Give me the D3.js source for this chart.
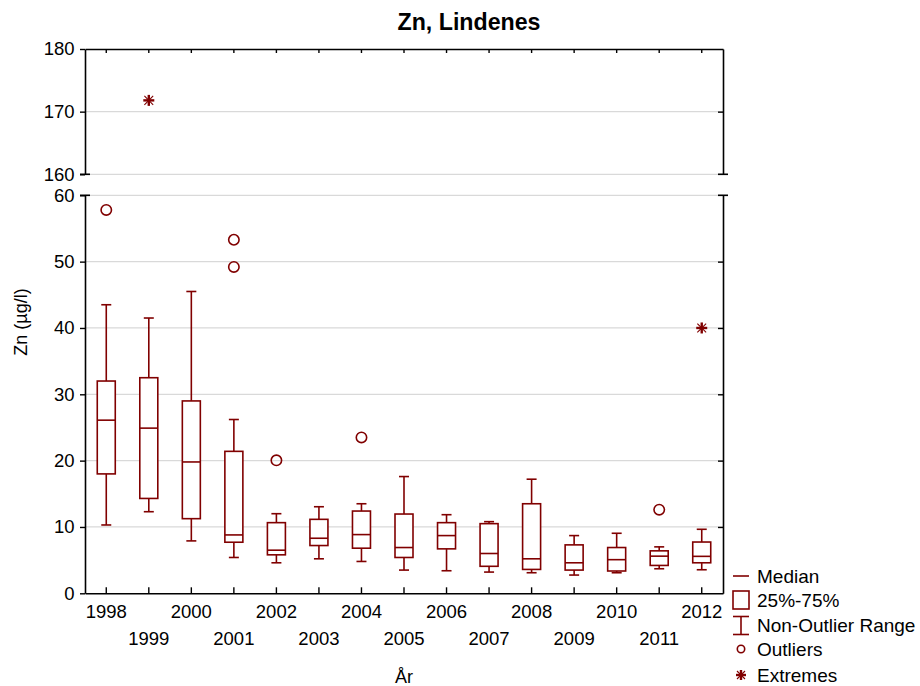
<!DOCTYPE html>
<html>
<head>
<meta charset="utf-8">
<script src="https://cdn.jsdelivr.net/npm/d3@7"></script>
<style>
  html, body { margin: 0; padding: 0; background: #fff; }
  svg text { font-family: "Liberation Sans", Arial, sans-serif; fill: #000; }
</style>
</head>
<body>
<svg id="chart" width="920" height="686"></svg>
<script>
// Zn concentration per year, box-and-whisker summary
const years        = [1998, 1999, 2000, 2001, 2002, 2003, 2004, 2005, 2006, 2007, 2008, 2009, 2010, 2011, 2012];
const whiskerLow   = [10.3, 12.3, 7.9, 5.4, 4.6, 5.2, 4.8, 3.5, 3.4, 3.2, 3.1, 2.75, 3.1, 3.7, 3.55];
const quartile1    = [18.0, 14.3, 11.25, 7.7, 5.8, 7.2, 6.8, 5.4, 6.7, 4.07, 3.6, 3.5, 3.36, 4.2, 4.6];
const medians      = [26.1, 24.9, 19.8, 8.8, 6.5, 8.3, 8.85, 6.9, 8.7, 6.0, 5.2, 4.6, 5.07, 5.6, 5.57];
const quartile3    = [32.0, 32.5, 29.0, 21.4, 10.65, 11.15, 12.4, 11.95, 10.65, 10.5, 13.5, 7.3, 6.9, 6.4, 7.73];
const whiskerHigh  = [43.5, 41.5, 45.5, 26.2, 12.0, 13.05, 13.5, 17.6, 11.85, 10.8, 17.2, 8.7, 9.05, 7.0, 9.65];
const outlierYears  = [1998, 2001, 2001, 2002, 2004, 2011];
const outlierValues = [57.8, 53.3, 49.2, 20.05, 23.5, 12.6];
const extremeYears  = [1999, 2012];
const extremeValues = [171.8, 40];
const upperTicks = [160, 170, 180];
const lowerTicks = [0, 10, 20, 30, 40, 50, 60];
const legendLabels = ["Median", "25%-75%", "Non-Outlier Range", "Outliers", "Extremes"];

const markColor = "#800000";
const axisColor = "#000";
const gridColor = "#d9d9d9";

const svg = d3.select("#chart");
const left = 85, right = 723;
const upperTop = 49, upperBottom = 174.3;
const lowerTop = 195.3, lowerBottom = 593.3;

const x = d3.scaleBand().domain(years).range([left, right]).padding(0);
const cx = d => x(d) + x.bandwidth() / 2;
const yUp = d3.scaleLinear().domain([160, 180]).range([upperBottom, upperTop]);
const yLo = d3.scaleLinear().domain([0, 60]).range([lowerBottom, lowerTop]);
// pick the panel a value falls in
const yAny = v => v >= 160 ? yUp(v) : yLo(v);

// gridlines
const grid = svg.append("g");
[[yUp, [160, 170]], [yLo, [10, 20, 30, 40, 50, 60]]].forEach(([sc, vals]) => {
  grid.selectAll(null).data(vals).enter().append("line")
    .attr("x1", left).attr("x2", right)
    .attr("y1", d => sc(d)).attr("y2", d => sc(d))
    .attr("stroke", gridColor).attr("stroke-width", 1.2);
});

// axes
function styleAxis(g) {
  g.selectAll("path.domain").attr("stroke", axisColor).attr("stroke-width", 1.6);
  g.selectAll(".tick line").attr("stroke", axisColor).attr("stroke-width", 1.4);
  g.selectAll(".tick text").attr("font-size", 18.5).attr("font-family", "Liberation Sans, Arial, sans-serif");
}
svg.append("g").attr("transform", `translate(${left},0)`)
  .call(d3.axisLeft(yUp).tickValues(upperTicks).tickSize(5).tickSizeOuter(0).tickPadding(5.5))
  .call(styleAxis);
svg.append("g").attr("transform", `translate(${left},0)`)
  .call(d3.axisLeft(yLo).tickValues(lowerTicks).tickSize(5).tickSizeOuter(0).tickPadding(5.5))
  .call(styleAxis);
svg.append("g").attr("transform", `translate(${right},0)`)
  .call(d3.axisRight(yUp).tickValues([170]).tickSize(-5).tickSizeOuter(0).tickFormat(""))
  .call(styleAxis);
svg.append("g").attr("transform", `translate(${right},0)`)
  .call(d3.axisRight(yLo).tickValues([10, 20, 30, 40, 50]).tickSize(-5).tickSizeOuter(0).tickFormat(""))
  .call(styleAxis);
svg.append("g").attr("transform", `translate(0,${upperTop})`)
  .call(d3.axisTop(x).tickSize(-4).tickSizeOuter(0).tickFormat(""))
  .call(styleAxis);
const bottomAxis = svg.append("g").attr("transform", `translate(0,${lowerBottom})`)
  .call(d3.axisBottom(x).tickSize(-6).tickSizeOuter(0))
  .call(styleAxis);
bottomAxis.selectAll(".tick text")
  .attr("dy", null)
  .attr("y", (d, i) => i % 2 === 0 ? 24.5 : 51.5);

// break caps on both vertical axes
[left, right].forEach(ax => {
  [upperBottom, lowerTop].forEach(yy => {
    svg.append("line").attr("x1", ax - 5).attr("x2", ax + 5)
      .attr("y1", yy).attr("y2", yy)
      .attr("stroke", axisColor).attr("stroke-width", 1.6);
  });
});

// boxes
const boxW = 18, capW = 10;
const boxes = svg.append("g").attr("stroke", markColor).attr("stroke-width", 1.6).attr("fill", "none");
years.forEach((yr, i) => {
  const c = cx(yr);
  const g = boxes.append("g");
  g.append("line").attr("x1", c).attr("x2", c).attr("y1", yLo(whiskerHigh[i])).attr("y2", yLo(quartile3[i]));
  g.append("line").attr("x1", c).attr("x2", c).attr("y1", yLo(quartile1[i])).attr("y2", yLo(whiskerLow[i]));
  g.append("line").attr("x1", c - capW / 2).attr("x2", c + capW / 2).attr("y1", yLo(whiskerHigh[i])).attr("y2", yLo(whiskerHigh[i]));
  g.append("line").attr("x1", c - capW / 2).attr("x2", c + capW / 2).attr("y1", yLo(whiskerLow[i])).attr("y2", yLo(whiskerLow[i]));
  g.append("rect").attr("x", c - boxW / 2).attr("width", boxW)
    .attr("y", yLo(quartile3[i])).attr("height", yLo(quartile1[i]) - yLo(quartile3[i]))
    .attr("fill", "#fff");
  g.append("line").attr("x1", c - boxW / 2).attr("x2", c + boxW / 2).attr("y1", yLo(medians[i])).attr("y2", yLo(medians[i]));
});

// outliers
svg.append("g").selectAll("circle").data(outlierValues).enter().append("circle")
  .attr("cx", (d, i) => cx(outlierYears[i])).attr("cy", d => yAny(d)).attr("r", 5.2)
  .attr("fill", "none").attr("stroke", markColor).attr("stroke-width", 1.6);

// asterisk marker
function star(g, px, py, s) {
  g.append("line").attr("x1", px - s).attr("x2", px + s).attr("y1", py).attr("y2", py)
    .attr("stroke", markColor).attr("stroke-width", 2.4);
  g.append("line").attr("x1", px).attr("x2", px).attr("y1", py - s).attr("y2", py + s)
    .attr("stroke", markColor).attr("stroke-width", 2.4);
  const k = s * 0.8;
  g.append("line").attr("x1", px - k).attr("x2", px + k).attr("y1", py - k).attr("y2", py + k)
    .attr("stroke", markColor).attr("stroke-width", 1.1);
  g.append("line").attr("x1", px - k).attr("x2", px + k).attr("y1", py + k).attr("y2", py - k)
    .attr("stroke", markColor).attr("stroke-width", 1.1);
}
const ext = svg.append("g");
extremeValues.forEach((v, i) => star(ext, cx(extremeYears[i]), yAny(v), 5.5));

// title and axis titles
svg.append("text").attr("x", 469).attr("y", 30).attr("text-anchor", "middle")
  .attr("font-size", 23.2).attr("font-weight", "bold").text("Zn, Lindenes");
svg.append("text").attr("transform", "translate(27,322) rotate(-90)").attr("text-anchor", "middle")
  .attr("font-size", 18).text("Zn (µg/l)");
svg.append("text").attr("x", 404).attr("y", 683).attr("text-anchor", "middle")
  .attr("font-size", 18).text("År");

// legend
const lg = svg.append("g");
const lx = 733, lw = 16, rowY = [576, 600, 625.5, 649, 675];
const lstroke = { stroke: markColor, "stroke-width": 1.6, fill: "none" };
function applyAttrs(sel, a) { Object.entries(a).forEach(([k, v]) => sel.attr(k, v)); return sel; }
applyAttrs(lg.append("line").attr("x1", lx).attr("x2", lx + lw).attr("y1", rowY[0]).attr("y2", rowY[0]), lstroke);
applyAttrs(lg.append("rect").attr("x", lx).attr("y", rowY[1] - 9).attr("width", lw).attr("height", 18), lstroke);
applyAttrs(lg.append("line").attr("x1", lx + lw / 2).attr("x2", lx + lw / 2).attr("y1", rowY[2] - 9).attr("y2", rowY[2] + 9), lstroke);
applyAttrs(lg.append("line").attr("x1", lx).attr("x2", lx + lw).attr("y1", rowY[2] - 9).attr("y2", rowY[2] - 9), lstroke);
applyAttrs(lg.append("line").attr("x1", lx).attr("x2", lx + lw).attr("y1", rowY[2] + 9).attr("y2", rowY[2] + 9), lstroke);
applyAttrs(lg.append("circle").attr("cx", lx + lw / 2).attr("cy", rowY[3]).attr("r", 3.7), lstroke);
star(lg, lx + lw / 2, rowY[4], 5);
lg.selectAll("text").data(legendLabels).enter().append("text")
  .attr("x", 757).attr("y", (d, i) => rowY[i] + 6.5)
  .attr("font-size", 19).text(d => d);
</script>
</body>
</html>
